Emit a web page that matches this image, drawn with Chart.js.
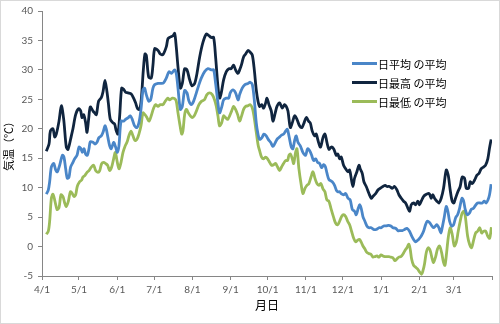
<!DOCTYPE html>
<html><head><meta charset="utf-8">
<script src="https://cdn.jsdelivr.net/npm/chart.js@4"></script>
<style>
html,body{margin:0;padding:0;background:#fff;}
#wrap{position:relative;width:500px;height:324px;}
#frame{position:absolute;left:0;top:0;width:498px;height:322px;border:1px solid #d9d9d9;pointer-events:none;}
#legend{position:absolute;left:352px;top:54px;font-family:"Noto Sans CJK JP",sans-serif;font-size:11px;color:#000;}
.item{display:flex;align-items:center;height:19px;white-space:pre;}
.sw{width:25px;height:3px;margin-right:1px;}
</style></head>
<body>
<div id="wrap">
<canvas id="c" width="500" height="324"></canvas>
<div id="legend"></div>
<div id="frame"></div>
</div>
<script>
const monthTicks = [0,30,61,91,122,153,183,214,244,275,306,334,365];
const monthLabels = ['4/1','5/1','6/1','7/1','8/1','9/1','10/1','11/1','12/1','1/1','2/1','3/1',''];
const seriesNames = ['日平均 の平均','日最高 の平均','日最低 の平均'];

const avgDays = [3.5,5.1,6.2,7.6,9.5,11.1,12.4,14.3,16.5,17.8,19.2,20.5,21.9,23.2,25.1,26.5,28.4,30.0,31.4,32.7,34.1,35.4,36.8,38.1,39.2,41.4,43.0,44.6,46.2,48.1,49.5,51.1,52.2,53.5,54.9,56.2,58.1,59.7,61.1,62.4,64.1,66.2,67.8,70.0,71.6,73.2,75.1,77.0,78.6,80.3,81.9,83.2,84.6,86.5,88.1,90.0,91.4,94.1,96.8,98.6,100.8,103.0,104.9,107.6,108.9,110.3,112.2,113.8,115.7,117.6,119.2,121.1,123.0,125.2,127.3,129.2,131.9,134.6,137.3,139.2,140.8,142.7,144.0,145.9,147.3,149.5,151.4,152.7,154.9,157.0,159.0,160.3,162.4,164.6,167.1,168.9,170.6,172.2,173.8,175.2,176.5,178.4,180.0,181.9,183.5,185.4,187.3,188.6,190.6,192.2,194.1,196.0,197.6,199.0,200.3,202.2,203.5,204.9,206.2,207.6,209.5,211.6,213.8,215.4,217.0,218.7,220.3,221.9,223.5,225.2,226.8,228.4,229.8,231.1,232.7,235.4,237.3,238.7,240.0,241.4,242.7,244.6,246.3,248.2,250.0,251.7,253.5,254.9,256.5,257.6,258.9,260.3,261.9,263.5,265.2,267.1,268.9,271.1,273.3,275.2,277.1,279.2,281.1,283.0,284.6,286.8,288.7,290.6,292.2,294.1,296.0,298.1,299.8,301.4,303.0,304.9,306.2,307.6,309.5,311.1,312.5,314.3,315.9,317.6,319.2,320.3,321.9,323.5,324.6,326.2,327.9,329.2,330.6,332.2,333.8,335.5,337.1,338.7,340.6,341.9,343.3,344.9,346.8,348.1,350.0,351.6,353.3,355.4,357.1,358.7,360.3,361.7,363.0,364.3];
const avgVals = [8.9,9.6,11.0,13.5,14.1,13.0,12.7,13.8,15.5,15.2,13.2,11.6,11.8,13.5,14.3,14.9,15.5,16.9,16.7,16.0,16.6,15.7,15.5,16.6,17.8,17.7,17.4,17.7,18.5,18.8,19.4,20.5,19.9,18.5,17.1,16.6,17.7,16.9,16.0,17.1,21.3,21.3,21.6,21.9,22.2,21.6,20.5,20.2,21.0,23.3,26.6,26.9,25.8,24.7,24.9,26.9,27.5,27.7,27.7,27.8,28.6,29.7,29.4,30.0,29.4,26.9,23.3,23.8,26.5,26.1,24.7,24.1,24.7,26.1,27.5,28.6,29.7,30.2,30.0,30.0,27.7,24.4,22.7,23.8,24.9,25.2,25.2,26.1,26.6,26.1,24.9,25.8,26.9,27.5,27.7,27.9,27.5,24.9,21.0,19.1,18.2,18.5,19.1,18.8,18.2,17.7,17.0,17.4,18.2,18.5,18.9,19.1,19.6,19.9,18.8,16.9,16.6,18.0,18.8,17.7,17.1,16.0,15.5,16.6,16.3,15.5,14.6,14.9,14.3,14.1,13.4,13.9,13.6,12.5,11.4,11.0,10.4,9.6,9.3,9.3,9.0,8.8,9.0,8.2,7.9,6.3,6.0,5.4,6.5,7.1,6.5,5.1,4.3,3.5,3.2,3.2,2.9,2.9,3.2,3.2,3.5,3.5,3.6,3.5,3.2,3.1,2.7,2.7,2.7,2.9,3.1,2.6,1.8,1.2,0.8,1.1,1.4,1.8,2.6,3.7,4.3,4.1,3.6,3.2,3.5,3.7,3.2,2.3,3.2,4.9,6.8,6.0,4.3,3.5,3.7,4.9,5.4,6.5,8.2,7.8,6.3,5.4,5.7,6.3,6.5,7.0,7.4,7.4,7.4,7.7,7.4,7.9,8.8,10.6];

const maxDays = [3.5,5.7,6.8,8.9,10.3,11.6,13.8,15.7,17.6,19.7,21.1,23.8,25.1,27.3,29.7,31.4,32.4,33.8,35.4,36.5,37.8,39.2,41.4,42.7,44.1,45.9,48.1,49.5,51.1,52.7,53.8,55.4,57.6,58.9,60.3,61.6,63.0,64.6,66.2,67.8,69.7,72.4,74.3,75.9,77.6,79.2,80.5,82.2,83.5,84.6,86.5,88.6,90.0,91.4,94.1,95.9,98.1,100.8,102.2,104.3,106.2,107.6,108.9,110.3,112.2,113.8,115.7,117.6,119.8,121.7,123.8,125.7,127.9,130.6,133.3,135.4,137.3,139.2,140.8,142.7,144.0,145.4,147.3,149.5,151.6,153.5,155.4,157.0,159.0,160.3,161.7,163.5,165.2,167.1,168.9,170.6,172.2,173.8,175.2,176.5,178.1,179.8,181.4,182.5,184.1,186.0,187.3,189.2,190.6,192.7,194.9,196.8,198.1,199.5,201.4,203.0,204.9,206.8,208.9,210.8,212.2,214.3,216.2,217.6,219.2,221.1,222.4,224.3,225.9,227.9,229.5,231.1,232.7,234.6,236.5,238.7,240.0,241.4,242.7,244.6,246.3,248.2,249.5,250.8,252.2,253.5,255.4,257.1,258.1,259.8,261.1,263.0,265.2,267.1,268.4,270.6,272.5,274.4,276.5,278.4,279.8,281.9,284.1,286.0,287.9,289.5,291.4,293.3,294.9,296.8,298.2,299.5,301.4,303.0,304.9,306.2,307.6,309.5,311.1,313.0,314.3,315.7,317.0,318.4,320.3,321.9,323.8,325.7,327.9,329.5,331.1,332.7,334.1,335.4,337.3,339.2,340.8,342.7,344.1,346.0,347.3,349.0,350.9,352.7,354.4,356.2,358.1,359.7,361.6,362.9,364.3];
const maxVals = [16.2,17.4,19.6,20.0,18.6,19.1,21.3,23.9,21.6,16.9,16.5,18.8,20.0,22.4,23.4,23.0,21.9,22.4,21.0,19.4,21.6,23.7,23.0,22.7,22.4,24.7,25.3,26.3,28.2,26.3,24.4,21.6,21.0,20.8,19.6,19.1,22.2,26.9,26.7,26.2,26.1,25.9,25.2,24.4,23.4,23.3,24.9,30.0,32.7,32.5,28.8,28.6,30.8,33.6,33.3,32.7,32.6,33.9,35.3,35.6,35.8,36.2,33.9,30.5,26.9,27.7,30.2,30.0,28.3,27.3,27.7,29.4,32.2,34.7,36.1,35.8,35.5,35.5,32.2,27.2,25.2,26.1,28.3,29.7,30.2,30.2,30.8,30.0,29.4,30.0,30.8,32.2,32.7,33.3,33.0,32.5,30.0,26.6,24.7,23.8,24.1,23.5,24.4,25.2,24.1,23.0,21.3,22.7,23.8,24.4,23.5,24.1,23.8,23.0,20.2,21.0,22.2,21.6,20.5,20.2,20.8,21.9,21.3,21.0,19.6,18.8,19.1,17.7,16.9,18.5,19.1,17.7,16.5,16.9,16.6,15.5,15.7,14.9,15.2,13.8,13.2,12.7,13.0,11.6,10.2,11.6,12.7,13.8,13.2,12.4,11.0,10.2,9.0,8.2,8.5,9.0,9.6,9.9,10.2,10.4,10.2,10.2,9.9,10.2,9.6,8.8,8.2,7.7,7.4,6.5,6.0,7.1,7.4,7.1,7.7,7.1,7.7,8.5,8.8,9.0,8.9,8.2,8.8,8.2,7.7,7.4,8.2,9.9,13.0,12.1,9.6,7.7,7.4,8.2,9.3,10.2,11.8,11.6,9.9,9.9,11.0,10.7,11.3,12.1,12.4,13.2,13.5,13.8,14.9,16.6,18.2];

const minDays = [3.5,5.1,6.2,7.6,8.9,10.3,12.2,13.8,15.4,17.0,18.4,19.7,21.4,23.0,24.6,25.9,27.3,28.6,30.5,32.2,33.2,34.9,36.5,38.1,40.0,41.9,43.5,45.4,46.8,48.4,50.0,51.6,53.2,54.9,56.5,58.1,59.5,60.8,62.4,64.1,65.7,67.3,68.9,70.5,72.2,73.8,75.4,77.0,78.6,80.3,81.9,83.5,85.1,86.8,88.6,90.5,92.2,94.1,95.9,98.1,100.0,102.2,103.5,105.7,107.6,108.9,110.3,111.6,113.3,114.3,115.7,117.1,118.7,120.3,121.9,123.5,125.2,127.3,129.5,131.6,133.8,135.9,138.1,140.0,141.4,142.7,144.0,145.7,147.3,148.9,150.6,152.2,153.8,155.4,157.0,158.7,160.3,161.9,163.5,165.2,167.1,168.9,170.6,171.9,173.8,175.4,176.5,178.1,179.8,181.4,183.0,184.6,186.2,187.9,189.5,191.1,192.7,194.3,195.9,197.6,199.2,200.3,201.6,203.0,204.1,205.7,206.8,208.4,210.3,211.6,213.3,214.9,216.5,218.2,219.8,221.4,223.0,224.6,226.2,227.9,229.5,231.1,232.7,234.6,236.6,238.1,239.8,241.4,243.0,244.6,246.3,247.9,249.5,251.1,252.8,254.4,256.0,257.6,259.0,260.3,261.9,263.5,265.2,266.8,268.4,270.0,271.7,273.3,275.0,276.5,278.1,279.8,281.4,283.0,284.6,286.3,287.9,289.5,291.1,292.7,294.3,296.0,297.6,298.7,299.8,301.4,303.0,304.6,306.2,307.9,309.0,310.3,311.7,313.3,314.9,316.5,317.6,319.2,320.8,322.5,324.1,325.7,326.8,327.9,329.5,331.1,332.7,334.4,336.0,337.6,339.2,340.8,342.4,343.5,345.2,346.8,348.4,350.0,351.7,353.3,355.0,356.6,358.2,359.9,361.5,363.1,364.5];
const minVals = [2.1,2.6,4.3,8.2,8.9,7.9,6.3,6.6,8.8,8.5,7.4,6.8,7.7,9.3,9.0,8.5,8.8,10.2,11.0,11.3,11.8,12.1,12.6,12.9,13.5,13.8,12.9,12.6,12.9,14.1,14.3,14.1,13.8,12.9,13.5,14.9,16.0,14.6,13.2,14.3,16.0,17.0,17.7,18.8,19.6,18.8,18.0,18.2,19.1,20.5,22.7,22.4,21.9,21.3,22.2,23.5,24.1,23.8,24.1,24.1,24.7,25.2,24.9,25.2,25.1,24.7,22.7,21.0,19.1,19.6,22.4,23.3,22.7,22.2,21.9,22.2,23.0,24.1,24.7,24.9,25.8,26.1,25.8,24.9,23.8,22.2,20.5,21.0,22.2,21.9,21.6,22.2,23.0,23.8,23.3,22.4,21.3,22.2,23.3,23.8,23.9,24.1,23.5,22.2,19.4,17.1,16.3,15.2,14.9,15.2,14.9,14.3,13.8,13.9,14.1,13.5,12.9,13.5,14.1,14.6,14.6,15.5,15.7,14.9,14.1,16.0,16.6,13.2,10.4,9.0,9.9,10.4,10.7,11.8,12.7,11.6,10.7,10.4,10.7,9.8,9.3,7.9,7.7,6.3,4.9,4.0,3.7,4.3,5.1,5.4,5.1,4.3,3.7,2.6,1.4,0.8,1.1,1.2,0.7,0.1,-0.4,-1.0,-1.2,-1.3,-1.8,-1.7,-1.6,-1.8,-1.4,-1.6,-1.7,-1.7,-1.7,-1.8,-1.9,-2.4,-2.1,-1.8,-1.7,-1.3,-0.7,-0.2,0.4,-0.5,-2.1,-3.2,-3.5,-3.8,-4.3,-4.7,-4.1,-2.9,-1.0,-0.2,-0.7,-2.1,-2.7,-1.8,-0.4,0.1,-1.0,-2.7,-3.2,-1.6,1.5,3.2,2.1,0.1,0.7,2.6,4.3,5.7,6.0,4.9,1.8,0.4,-0.2,1.0,2.3,2.6,3.2,2.3,2.6,2.6,1.8,1.4,3.3];

const colors = ['#4a86c8','#10253f','#9bbb59'];
const daySets = [avgDays, maxDays, minDays];
const valSets = [avgVals, maxVals, minVals];

const datasets = seriesNames.map((name, k) => ({
  label: name,
  data: daySets[k].map((d, i) => ({x: d, y: valSets[k][i]})),
  borderColor: colors[k],
  backgroundColor: colors[k],
  borderWidth: 2.8,
  pointRadius: 0,
  tension: 0.3,
  fill: false
}));

// HTML legend
const lg = document.getElementById('legend');
seriesNames.forEach((n, k) => {
  const it = document.createElement('div'); it.className = 'item';
  const sw = document.createElement('div'); sw.className = 'sw'; sw.style.background = colors[k];
  const tx = document.createElement('span'); tx.textContent = n;
  it.appendChild(sw); it.appendChild(tx); lg.appendChild(it);
});

const tickFont = {family: 'Lato, "Liberation Sans", sans-serif', size: 10};
new Chart(document.getElementById('c'), {
  type: 'line',
  data: {datasets},
  options: {
    responsive: false,
    animation: false,
    layout: {padding: {top: 7, right: 8, left: 0, bottom: 0}},
    plugins: {legend: {display: false}, tooltip: {enabled: false}},
    scales: {
      x: {
        type: 'linear', min: 0, max: 365,
        afterBuildTicks: a => { a.ticks = monthTicks.map(v => ({value: v})); },
        afterFit: s => { s.height = 48; },
        ticks: {autoSkip: false, maxRotation: 0, color: '#595959', font: tickFont, padding: 4,
          callback: (v, i) => monthLabels[i]},
        grid: {drawOnChartArea: false, drawTicks: true, tickLength: 4, color: '#868686'},
        border: {color: '#868686', width: 1},
        title: {display: true, text: '月日', color: '#000', font: {family: '"Noto Sans CJK JP"', size: 12}, padding: {top: 0, bottom: 11}}
      },
      y: {
        min: -5, max: 40,
        afterFit: s => { s.width = 42; },
        ticks: {stepSize: 5, color: '#595959', font: tickFont, padding: 5},
        grid: {drawOnChartArea: false, drawTicks: true, tickLength: 4, color: '#868686'},
        border: {color: '#868686', width: 1},
        title: {display: true, text: '気温（℃）', color: '#000', font: {family: '"Noto Sans CJK JP"', size: 11}, padding: {top: 2, bottom: 0}}
      }
    }
  }
});
</script>
</body></html>
